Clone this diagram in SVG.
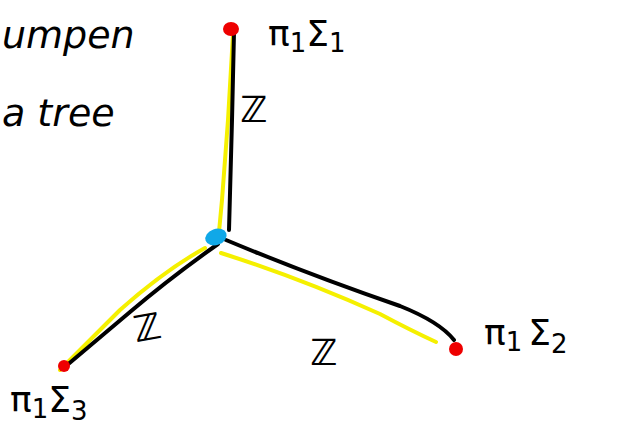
<svg xmlns="http://www.w3.org/2000/svg" width="621" height="444" viewBox="0 0 621 444">
<style>
.hand{font-family:"DejaVu Sans","Liberation Sans",sans-serif;fill:#000}
.lbl{font-family:"DejaVu Sans","Liberation Sans",sans-serif;fill:#000;font-size:36px}
.sub{font-size:26px}
.blk{fill:none;stroke:#000;stroke-width:4;stroke-linecap:round;stroke-linejoin:round}
.yel{fill:none;stroke:#f5f000;stroke-width:4;stroke-linecap:round;stroke-linejoin:round}
.red{fill:#ee0000}
</style>
<rect width="621" height="444" fill="#fff"/>
<g id="notes">
<text class="hand" x="2" y="48" font-size="38" font-style="italic">umpen</text>
<text class="hand" x="2" y="126" font-size="38" font-style="italic">a  tree</text>
</g>
<g id="connectors">
<path class="yel" d="M233 34 L228 120 L222 200 L219 232"/>
<path class="blk" d="M234 32 L232 120 L229 230"/>
<path class="yel" d="M205 248 Q165 270 120 310 L60 370"/>
<path class="blk" d="M218 244 Q170 278 130 312 L66 366"/>
<path class="yel" d="M221 253 Q300 278 380 314 Q410 330 436 342"/>
<path class="blk" d="M226 240 Q310 275 400 306 Q440 322 454 340"/>
</g>
<g id="n1">
<ellipse class="red" cx="231" cy="29" rx="8" ry="7"/>
<text class="lbl" x="268" y="46">π<tspan class="sub" dy="6">1</tspan><tspan dy="-6">Σ</tspan><tspan class="sub" dy="6">1</tspan></text>
</g>
<g id="center">
<ellipse cx="216" cy="237" rx="11" ry="8" fill="#10a8e8" transform="rotate(-20 216 237)"/>
</g>
<g id="n2">
<circle class="red" cx="456" cy="349" r="7"/>
<text class="lbl" x="484" y="345">π<tspan class="sub" dy="6">1</tspan><tspan dx="6" dy="-6">Σ</tspan><tspan class="sub" dy="8">2</tspan></text>
</g>
<g id="n3">
<circle class="red" cx="64" cy="366" r="6"/>
<text class="lbl" x="10" y="412">π<tspan class="sub" dy="6">1</tspan><tspan dy="-6">Σ</tspan><tspan class="sub" dy="8">3</tspan></text>
</g>
<g id="labels">
<text class="lbl" x="240" y="122" font-size="36" font-weight="bold">ℤ</text>
<text class="lbl" x="134" y="340" font-size="32" font-weight="bold" transform="rotate(-10 148 330)">ℤ</text>
<text class="lbl" x="310" y="365" font-size="40" font-weight="bold">ℤ</text>
</g>
</svg>
